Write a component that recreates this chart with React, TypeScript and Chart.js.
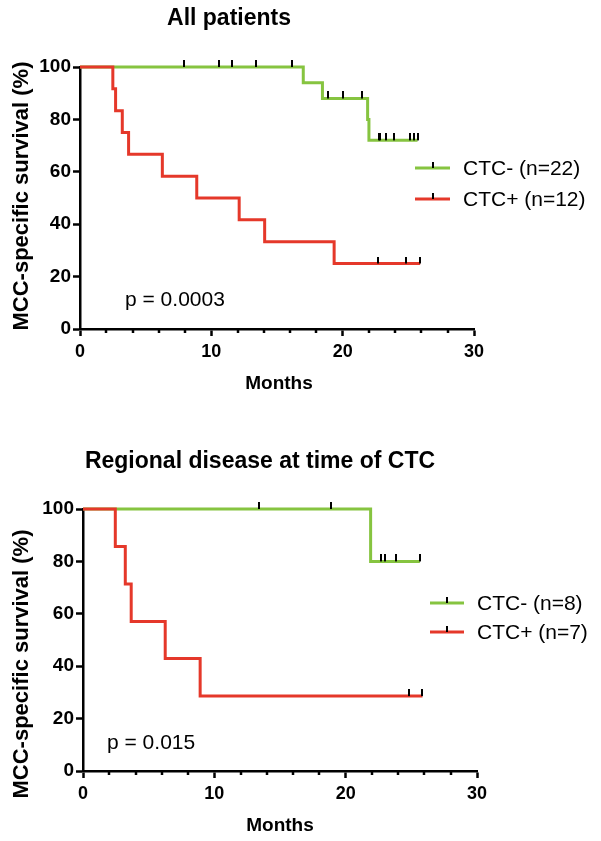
import React, { useEffect, useRef } from 'react';
import { Chart, registerables } from 'chart.js';

Chart.register(...registerables);

// ---------- Panel 1: All patients ----------
const allNegMonths = [0, 17.0, 18.46, 21.9, 22.0, 25.7];
const allNegSurv = [100, 94, 88, 80, 72, 72];
const allNegCensorMonths = [7.9, 10.6, 11.56, 13.42, 16.18, 18.87, 20.0, 21.5, 22.73, 22.86, 23.3, 23.93, 25.15, 25.4, 25.7];
const allNegCensorSurv = [100, 100, 100, 100, 100, 88, 88, 88, 72, 72, 72, 72, 72, 72, 72];
const allPosMonths = [0, 2.5, 2.71, 3.22, 3.7, 6.27, 8.89, 12.12, 14.06, 19.35, 25.9];
const allPosSurv = [100, 91.7, 83.3, 75, 66.7, 58.3, 50, 41.7, 33.3, 25, 25];
const allPosCensorMonths = [22.66, 24.79, 25.9];
const allPosCensorSurv = [25, 25, 25];

// ---------- Panel 2: Regional disease at time of CTC ----------
const regNegMonths = [0, 21.9, 25.65];
const regNegSurv = [100, 80, 80];
const regNegCensorMonths = [13.4, 18.86, 22.66, 23.0, 23.85, 25.65];
const regNegCensorSurv = [100, 100, 80, 80, 80, 80];
const regPosMonths = [0, 2.46, 3.22, 3.67, 6.26, 8.92, 25.85];
const regPosSurv = [100, 85.7, 71.4, 57.1, 42.9, 28.6, 28.6];
const regPosCensorMonths = [24.8, 25.85];
const regPosCensorSurv = [28.6, 28.6];

const xTickValues = [0, 10, 20, 30];
const yTickValues = [0, 20, 40, 60, 80, 100];

const GREEN = '#86c440';
const RED = '#e5382a';
const FONT = '"Liberation Sans", Arial, Helvetica, sans-serif';

const toPts = (xs: number[], ys: number[]) => xs.map((x, i) => ({ x, y: ys[i] }));

type Panel = {
  top: number;
  height: number;
  title: string;
  titleX: number;
  titleY: number;
  yWidth: number;
  yTitleY: number;
  padTop: number;
  padRight: number;
  padBottom: number;
  pText: string;
  pX: number;
  pY: number;
  legendY: number[];
  legendLineX: [number, number];
  legendTextX: number;
  monthsX: number;
  monthsY: number;
  negLabel: string;
  posLabel: string;
  neg: { x: number; y: number }[];
  pos: { x: number; y: number }[];
  negC: { x: number; y: number }[];
  posC: { x: number; y: number }[];
};

const panels: Panel[] = [
  {
    top: 0, height: 420, title: 'All patients', titleX: 229, titleY: 19,
    yWidth: 80, yTitleY: 196, padTop: 67, padRight: 127, padBottom: 51,
    pText: 'p = 0.0003', pX: 125, pY: 300,
    legendY: [168, 199], legendLineX: [415, 450], legendTextX: 463,
    monthsX: 279, monthsY: 384,
    negLabel: 'CTC- (n=22)', posLabel: 'CTC+ (n=12)',
    neg: toPts(allNegMonths, allNegSurv), pos: toPts(allPosMonths, allPosSurv),
    negC: toPts(allNegCensorMonths, allNegCensorSurv), posC: toPts(allPosCensorMonths, allPosCensorSurv),
  },
  {
    top: 420, height: 421, title: 'Regional disease at time of CTC', titleX: 260, titleY: 42,
    yWidth: 83, yTitleY: 244, padTop: 89, padRight: 124, padBottom: 30,
    pText: 'p = 0.015', pX: 107, pY: 323,
    legendY: [183, 212], legendLineX: [430, 464], legendTextX: 477,
    monthsX: 280, monthsY: 406,
    negLabel: 'CTC- (n=8)', posLabel: 'CTC+ (n=7)',
    neg: toPts(regNegMonths, regNegSurv), pos: toPts(regPosMonths, regPosSurv),
    negC: toPts(regNegCensorMonths, regNegCensorSurv), posC: toPts(regPosCensorMonths, regPosCensorSurv),
  },
];

function makeTickImage(): HTMLCanvasElement {
  const c = document.createElement('canvas');
  c.width = 2;
  c.height = 14;
  const g = c.getContext('2d')!;
  g.fillStyle = '#000';
  g.fillRect(0, 0, 2, 7);
  return c;
}

function KMChart({ p }: { p: Panel }) {
  const ref = useRef<HTMLCanvasElement | null>(null);
  useEffect(() => {
    if (!ref.current) return;
    const tickImg = makeTickImage();
    const textPlugin = {
      id: 'kmText',
      afterDraw(chart: any) {
        const ctx = chart.ctx as CanvasRenderingContext2D;
        const area = chart.chartArea;
        const xs = chart.scales.x;
        ctx.save();
        // minor x ticks
        ctx.strokeStyle = '#000';
        ctx.lineWidth = 2.5;
        for (let v = 2; v < 30; v += 2) {
          if (v % 10 === 0) continue;
          const px = Math.round(xs.getPixelForValue(v));
          ctx.beginPath();
          ctx.moveTo(px, area.bottom);
          ctx.lineTo(px, area.bottom + 4);
          ctx.stroke();
        }
        ctx.fillStyle = '#000';
        // title
        ctx.font = `bold 23px ${FONT}`;
        ctx.textAlign = 'center';
        ctx.textBaseline = 'middle';
        ctx.fillText(p.title, p.titleX, p.titleY);
        // x title
        ctx.font = `bold 19px ${FONT}`;
        ctx.fillText('Months', p.monthsX, p.monthsY);
        // y title
        ctx.save();
        ctx.translate(22, p.yTitleY);
        ctx.rotate(-Math.PI / 2);
        ctx.font = `bold 22px ${FONT}`;
        ctx.fillText('MCC-specific survival (%)', 0, 0);
        ctx.restore();
        // p value
        ctx.font = `21px ${FONT}`;
        ctx.textAlign = 'left';
        ctx.fillText(p.pText, p.pX, p.pY);
        // legend
        const rows = [
          { c: GREEN, t: p.negLabel, y: p.legendY[0] },
          { c: RED, t: p.posLabel, y: p.legendY[1] },
        ];
        rows.forEach((r) => {
          ctx.strokeStyle = r.c;
          ctx.lineWidth = 3;
          ctx.beginPath();
          ctx.moveTo(p.legendLineX[0], r.y);
          ctx.lineTo(p.legendLineX[1], r.y);
          ctx.stroke();
          const mid = Math.round((p.legendLineX[0] + p.legendLineX[1]) / 2);
          ctx.fillStyle = '#000';
          ctx.fillRect(mid - 1, r.y - 6, 2, 6);
          ctx.fillText(r.t, p.legendTextX, r.y + 1);
        });
        ctx.restore();
      },
    };

    const xFont = { family: FONT, size: 18, weight: 'bold' as const };
    const yFont = { family: FONT, size: 19, weight: 'bold' as const };
    const chart = new Chart(ref.current, {
      type: 'line',
      data: {
        datasets: [
          { type: 'scatter', data: p.posC, pointStyle: tickImg as any, pointRadius: 4, showLine: false, order: 0, clip: false as any },
          { type: 'scatter', data: p.negC, pointStyle: tickImg as any, pointRadius: 4, showLine: false, order: 0, clip: false as any },
          { data: p.pos, borderColor: RED, borderWidth: 3, stepped: true, pointRadius: 0, fill: false, order: 1, clip: false as any },
          { data: p.neg, borderColor: GREEN, borderWidth: 3, stepped: true, pointRadius: 0, fill: false, order: 2, clip: false as any },
        ] as any,
      },
      options: {
        responsive: false,
        animation: false,
        events: [],
        layout: { padding: { left: 0, top: p.padTop, right: p.padRight, bottom: p.padBottom } },
        plugins: { legend: { display: false }, tooltip: { enabled: false }, title: { display: false } },
        scales: {
          x: {
            type: 'linear',
            min: 0,
            max: 30,
            afterFit: (s: any) => { s.height = 40; },
            afterBuildTicks: (s: any) => { s.ticks = xTickValues.map((v) => ({ value: v })); },
            ticks: { color: '#000', font: xFont, padding: 5, autoSkip: false, maxRotation: 0 },
            grid: { display: true, drawOnChartArea: false, drawTicks: true, tickLength: 7, tickWidth: 2.5, tickColor: '#000' },
            border: { display: true, color: '#000', width: 2.5 },
          },
          y: {
            type: 'linear',
            min: 0,
            max: 100,
            afterFit: (s: any) => { s.width = p.yWidth; },
            afterBuildTicks: (s: any) => { s.ticks = yTickValues.map((v) => ({ value: v })); },
            ticks: { color: '#000', font: yFont, padding: 2 },
            grid: { display: true, drawOnChartArea: false, drawTicks: true, tickLength: 7, tickWidth: 2.5, tickColor: '#000' },
            border: { display: true, color: '#000', width: 2.5 },
          },
        },
      },
      plugins: [textPlugin],
    } as any);
    return () => chart.destroy();
  }, [p]);
  return (
    <canvas
      ref={ref}
      width={601}
      height={p.height}
      style={{ position: 'absolute', left: 0, top: p.top, width: 601, height: p.height }}
    />
  );
}

export default function App() {
  return (
    <div style={{ position: 'absolute', left: 0, top: 0, width: 601, height: 841, background: '#fff' }}>
      {panels.map((p, i) => (
        <KMChart key={i} p={p} />
      ))}
    </div>
  );
}
